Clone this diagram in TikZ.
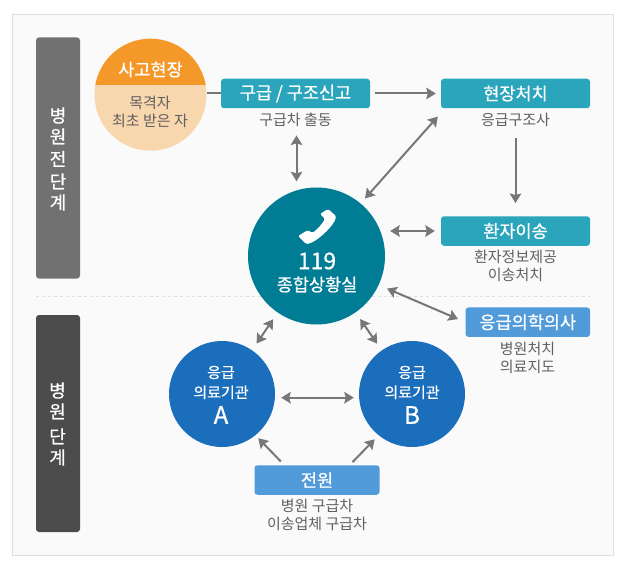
\documentclass[tikz,border=0pt]{standalone}
\usepackage{xcolor}
\usepackage{fontspec}
\setmainfont{Noto Sans CJK KR}
\newfontfamily\medfont[FakeBold=0.7]{Noto Sans CJK KR}
\usetikzlibrary{arrows.meta}
\definecolor{panelgray}{HTML}{FAFAFA}
\definecolor{panelline}{HTML}{DEDEDE}
\definecolor{arrowgray}{HTML}{777777}
\definecolor{textgray}{HTML}{606060}
\definecolor{tealbox}{HTML}{2AA5BB}
\definecolor{tealdark}{HTML}{007C95}
\definecolor{bluebox}{HTML}{529BDA}
\definecolor{bluedark}{HTML}{1B6EBB}
\definecolor{orangetop}{HTML}{F5982A}
\definecolor{orangelow}{HTML}{F8D6AE}
\tikzset{
    phasebar/.style={rounded corners=3pt, minimum width=44pt, inner sep=0pt},
    phasetext/.style={text=white, font=\fontsize{18}{21}\medfont, align=center, inner sep=0pt},
    titlebox/.style={rounded corners=3pt, minimum height=29.5pt, text=white, font=\fontsize{17.5}{20}\medfont, inner sep=0pt},
    subtext/.style={text=textgray, font=\fontsize{15}{18}\selectfont, align=center, inner sep=0pt},
    hospital/.style={circle, fill=bluedark, minimum size=106pt, inner sep=0pt},
    hosptext/.style={text=white, font=\fontsize{15}{20}\medfont, align=center, inner sep=0pt},
    hospname/.style={text=white, font=\fontsize{24}{26}\medfont, inner sep=0pt},
    arr/.style={draw=arrowgray, line width=2pt, -{Stealth[length=9.5pt,width=11.5pt,inset=1.5pt]}},
    biarr/.style={arr, {Stealth[length=9.5pt,width=11.5pt,inset=1.5pt]}-{Stealth[length=9.5pt,width=11.5pt,inset=1.5pt]}}
}
\begin{document}
\begin{tikzpicture}[x=1pt,y=-1pt]
    \useasboundingbox (0,0) rectangle (623,567);
    % panel and divider
    \draw[panelline, fill=panelgray] (12.5,14.5) rectangle (613,555.5);
    \draw[panelline, dashed, line width=0.8pt] (36,296.5) -- (590,296.5);

    % phase bars
    \node[phasebar, fill=arrowgray!95!black, minimum height=241pt] (prebar) at (58,158) {};
    \node[phasetext] (prelabel) at (58,159) {병\\원\\[1.5pt]전\\[1.5pt]단\\계};
    \node[phasebar, fill=black!70, minimum height=217pt] (hospbar) at (58,423.5) {};
    \node[phasetext] (hosplabel) at (57.5,424) {병\\원\\[4pt]단\\계};

    % accident scene
    \fill[orangelow] (150.5,94.7) circle (56);
    \begin{scope}
        \clip (90,30) rectangle (212,85);
        \fill[orangetop] (150.5,94.7) circle (56);
    \end{scope}
    \coordinate (scene) at (206.5,93.5);
    \node[text=white, font=\fontsize{17.5}{20}\medfont, inner sep=0pt] (scenetitle) at (150.5,69.5) {사고현장};
    \node[subtext] (scenetext) at (150,112) {목격자\\최초 받은 자};

    % teal boxes
    \node[titlebox, fill=tealbox, minimum width=149pt] (report) at (295.5,93.5) {구급 / 구조신고};
    \node[subtext] (reporttext) at (295.5,120) {구급차 출동};
    \node[titlebox, fill=tealbox, minimum width=149pt] (site) at (515.5,93.5) {현장처치};
    \node[subtext] (sitetext) at (515.5,119.5) {응급구조사};
    \node[titlebox, fill=tealbox, minimum width=149pt] (transfer) at (515.5,231) {환자이송};
    \node[subtext] (transfertext) at (515.5,266) {환자정보제공\\이송처치};

    % blue boxes
    \node[titlebox, fill=bluebox, minimum width=124.5pt] (doctor) at (527.8,322.2) {응급의학의사};
    \node[subtext] (doctortext) at (527.5,358) {병원처치\\의료지도};
    \node[titlebox, fill=bluebox, minimum width=125pt] (referral) at (317,480) {전원};
    \node[subtext] (referraltext) at (317,515) {병원 구급차\\이송업체 구급차};

    % control room
    \node[circle, fill=tealdark, minimum size=137pt, inner sep=0pt] (control) at (316.5,256) {};
    \fill[white, rounded corners=1.5pt] (328,209) -- (336,216) .. controls (335,225) and (316,243) .. (306,244)
        -- (298,236) -- (308,230) -- (312,233) .. controls (317,230) and (322,224) .. (325,219) -- (320,214) -- cycle;
    \node[text=white, font=\fontsize{23}{25}\medfont, inner sep=0pt] (controlnum) at (317,261) {119};
    \node[text=white, font=\fontsize{17.5}{20}\medfont, inner sep=0pt] (controltext) at (317,284.5) {종합상황실};

    % hospitals
    \node[hospital] (hospa) at (222,394) {};
    \node[hosptext] (hospatext) at (221,382.5) {응급\\의료기관};
    \node[hospname] (hospaname) at (221,415) {A};
    \node[hospital] (hospb) at (412,394) {};
    \node[hosptext] (hospbtext) at (412,382.5) {응급\\의료기관};
    \node[hospname] (hospbname) at (412,415) {B};

    % connectors
    \draw[arrowgray, line width=2pt] (scene) -- (report.west);
    \draw[arr, shorten <=5pt, shorten >=5pt] (report) -- (site);
    \draw[biarr, shorten <=27pt, shorten >=6pt] ([xshift=1pt]report.south) -- ([xshift=1pt]report.south |- control.north);
    \draw[biarr, shorten <=4.5pt, shorten >=6.5pt] ([yshift=-4.7pt]site.south west) -- (control.50);
    \draw[arr, shorten <=30pt, shorten >=13pt] (site.south) -- (transfer.north);
    \draw[biarr, shorten <=5pt, shorten >=6pt] (transfer.west -| control.east) -- (transfer.west);
    \draw[biarr, shorten <=9pt, shorten >=8pt] (control.-25) -- (doctor.west);
    \draw[biarr, shorten <=8pt, shorten >=8pt] (control) -- (hospa);
    \draw[biarr, shorten <=8pt, shorten >=8pt] (control) -- (hospb);
    \draw[biarr, shorten <=6pt, shorten >=5pt] ([yshift=-3.7pt]hospa.east) -- ([yshift=-3.7pt]hospb.west);
    \draw[arr, shorten <=5pt, shorten >=4pt] ([xshift=30pt]referral.north west) -- (hospa.-51);
    \draw[arr, shorten <=4pt, shorten >=5.5pt] ([xshift=-30pt]referral.north east) -- (hospb.231);
\end{tikzpicture}
\end{document}
